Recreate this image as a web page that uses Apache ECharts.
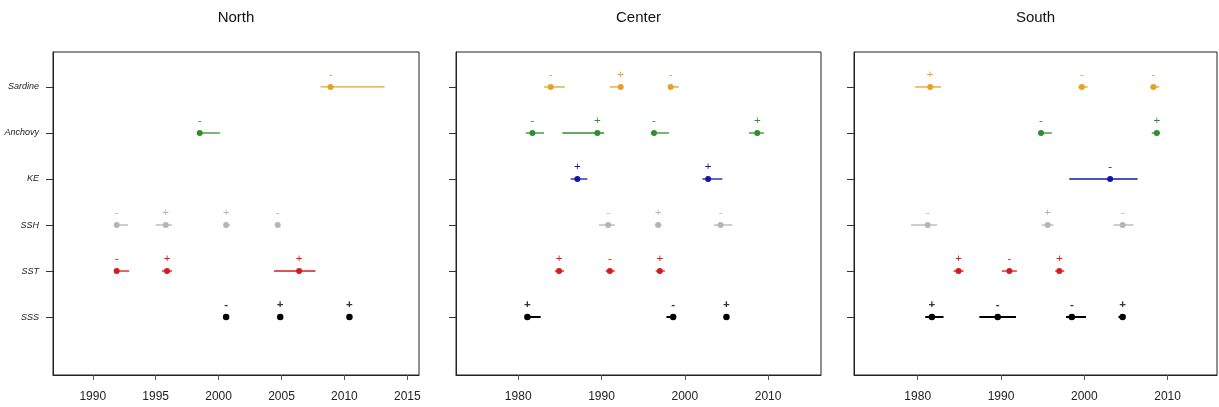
<!DOCTYPE html>
<html>
<head>
<meta charset="utf-8">
<script src="https://cdn.jsdelivr.net/npm/echarts@6/dist/echarts.min.js"></script>
<style>html,body{margin:0;padding:0;background:#fff;}#c{width:1219px;height:407px;}</style>
</head>
<body>
<div id="c"></div>
<script>
// Variables (bottom to top on y axis)
const variables = ['SSS', 'SST', 'SSH', 'KE', 'Anchovy', 'Sardine'];
const panelTitles = ['North', 'Center', 'South'];
const northTicks = [1990, 1995, 2000, 2005, 2010, 2015];
const centerTicks = [1980, 1990, 2000, 2010];
const southTicks = [1980, 1990, 2000, 2010];

// [variable, year, lower, upper, sign]
const northData = [
  ['Sardine', 2008.9, 2008.1, 2013.2, '-'],
  ['Anchovy', 1998.5, 1998.5, 2000.1, '-'],
  ['SSH', 1991.9, 1991.9, 1992.8, '-'],
  ['SSH', 1995.8, 1995.0, 1996.3, '+'],
  ['SSH', 2000.6, 2000.4, 2000.9, '+'],
  ['SSH', 2004.7, 2004.7, 2004.7, '-'],
  ['SST', 1991.9, 1991.9, 1992.9, '-'],
  ['SST', 1995.9, 1995.5, 1996.3, '+'],
  ['SST', 2006.4, 2004.4, 2007.7, '+'],
  ['SSS', 2000.6, 2000.6, 2000.6, '-'],
  ['SSS', 2004.9, 2004.9, 2004.9, '+'],
  ['SSS', 2010.4, 2010.4, 2010.4, '+']
];
const centerData = [
  ['Sardine', 1983.9, 1983.1, 1985.6, '-'],
  ['Sardine', 1992.3, 1991.0, 1992.6, '+'],
  ['Sardine', 1998.3, 1998.3, 1999.3, '-'],
  ['Anchovy', 1981.7, 1980.9, 1983.1, '-'],
  ['Anchovy', 1989.5, 1985.3, 1990.3, '+'],
  ['Anchovy', 1996.3, 1996.3, 1998.1, '-'],
  ['Anchovy', 2008.7, 2007.7, 2009.5, '+'],
  ['KE', 1987.1, 1986.3, 1988.3, '+'],
  ['KE', 2002.8, 2002.1, 2004.5, '+'],
  ['SSH', 1990.8, 1989.7, 1991.6, '-'],
  ['SSH', 1996.8, 1996.4, 1997.2, '+'],
  ['SSH', 2004.3, 2003.5, 2005.7, '-'],
  ['SST', 1984.9, 1984.4, 1985.5, '+'],
  ['SST', 1991.0, 1990.5, 1991.6, '-'],
  ['SST', 1997.0, 1996.5, 1997.6, '+'],
  ['SSS', 1981.1, 1981.1, 1982.7, '+'],
  ['SSS', 1998.6, 1997.8, 1998.8, '-'],
  ['SSS', 2005.0, 2005.0, 2005.0, '+']
];
const southData = [
  ['Sardine', 1981.5, 1979.7, 1982.8, '+'],
  ['Sardine', 1999.7, 1999.3, 2000.4, '-'],
  ['Sardine', 2008.3, 2007.9, 2009.0, '-'],
  ['Anchovy', 1994.8, 1994.8, 1996.1, '-'],
  ['Anchovy', 2008.7, 2008.1, 2009.1, '+'],
  ['KE', 2003.1, 1998.2, 2006.4, '-'],
  ['SSH', 1981.2, 1979.2, 1982.3, '-'],
  ['SSH', 1995.6, 1994.9, 1996.3, '+'],
  ['SSH', 2004.6, 2003.5, 2005.9, '-'],
  ['SST', 1984.9, 1984.3, 1985.5, '+'],
  ['SST', 1991.0, 1990.1, 1991.9, '-'],
  ['SST', 1997.0, 1996.5, 1997.6, '+'],
  ['SSS', 1981.7, 1980.9, 1983.1, '+'],
  ['SSS', 1989.6, 1987.4, 1991.8, '-'],
  ['SSS', 1998.5, 1997.8, 2000.2, '-'],
  ['SSS', 2004.6, 2004.1, 2004.9, '+']
];

const colors = {
  Sardine: '#E6A226',
  Anchovy: '#2F8F2F',
  KE: '#1414A8',
  SSH: '#B5B5B5',
  SST: '#D41C1C',
  SSS: '#000000'
};

const panels = [
  { data: northData, ticks: northTicks, left: 53, width: 366, min: 1986.84, max: 2015.93, labels: true },
  { data: centerData, ticks: centerTicks, left: 456, width: 365, min: 1972.53, max: 2016.35, labels: false },
  { data: southData, ticks: southTicks, left: 854, width: 363, min: 1972.35, max: 2015.93, labels: false }
];

const FONT = 'Liberation Sans, Arial, sans-serif';
const grids = [], xAxes = [], yAxes = [], series = [], graphics = [];
const yIdx = v => variables.indexOf(v) + 1;

panels.forEach((p, i) => {
  grids.push({ left: p.left, width: p.width, top: 52, height: 323, show: true,
    borderColor: '#222', borderWidth: 1, backgroundColor: 'transparent' });
  xAxes.push({ type: 'value', gridIndex: i, min: p.min, max: p.max,
    axisLine: { show: true, onZero: false, lineStyle: { color: '#222', width: 1 } },
    axisTick: { show: true, length: 5, lineStyle: { color: '#555' }, customValues: p.ticks },
    axisLabel: { show: true, customValues: p.ticks, margin: 16, fontSize: 12, color: '#222', fontFamily: FONT,
      formatter: v => String(Math.round(v)) },
    splitLine: { show: false } });
  yAxes.push({ type: 'value', gridIndex: i, min: -0.26, max: 6.76,
    axisLine: { show: true, onZero: false, lineStyle: { color: '#222', width: 1 } },
    axisTick: { show: true, length: 7, lineStyle: { color: '#333' }, customValues: [1, 2, 3, 4, 5, 6] },
    axisLabel: { show: p.labels, customValues: [1, 2, 3, 4, 5, 6], margin: 14, fontSize: 9,
      fontStyle: 'italic', color: '#222', fontFamily: FONT,
      formatter: v => variables[Math.round(v) - 1] || '' },
    splitLine: { show: false } });

  variables.forEach(v => {
    const rows = p.data.filter(r => r[0] === v);
    if (!rows.length) return;
    const col = colors[v];
    series.push({
      type: 'custom', xAxisIndex: i, yAxisIndex: i, z: 2, silent: true,
      data: rows.map(r => [yIdx(r[0]), r[2], r[3]]),
      encode: { x: [1, 2], y: 0 },
      renderItem: (params, api) => {
        const a = api.coord([api.value(1), api.value(0)]);
        const b = api.coord([api.value(2), api.value(0)]);
        return { type: 'line', shape: { x1: a[0], y1: a[1], x2: b[0], y2: b[1] },
          style: { stroke: col, lineWidth: v === 'SSS' ? 2 : 1.3 } };
      }
    });
    series.push({
      type: 'scatter', xAxisIndex: i, yAxisIndex: i, z: 3, silent: true,
      symbol: 'circle', symbolSize: v === 'SSS' ? 6.5 : 6,
      itemStyle: { color: col, opacity: 1 },
      data: rows.map(r => ({ value: [r[1], yIdx(r[0])], sign: r[4] })),
      label: { show: true, position: 'top', distance: 3,
        formatter: prm => prm.data.sign, color: v === 'SSS' ? '#333' : col,
        fontSize: 11.5, fontFamily: FONT, fontWeight: v === 'SSS' ? 'bold' : 'normal' }
    });
  });

  graphics.push({ type: 'text', x: p.left + p.width / 2, y: 18,
    style: { text: panelTitles[i], textAlign: 'center', textVerticalAlign: 'middle',
      font: '15px ' + FONT, fill: '#111' } });
});

const chart = echarts.init(document.getElementById('c'), null, { renderer: 'canvas' });
chart.setOption({
  animation: false,
  backgroundColor: '#fff',
  grid: grids, xAxis: xAxes, yAxis: yAxes, series: series, graphic: graphics
});
</script>
</body>
</html>
